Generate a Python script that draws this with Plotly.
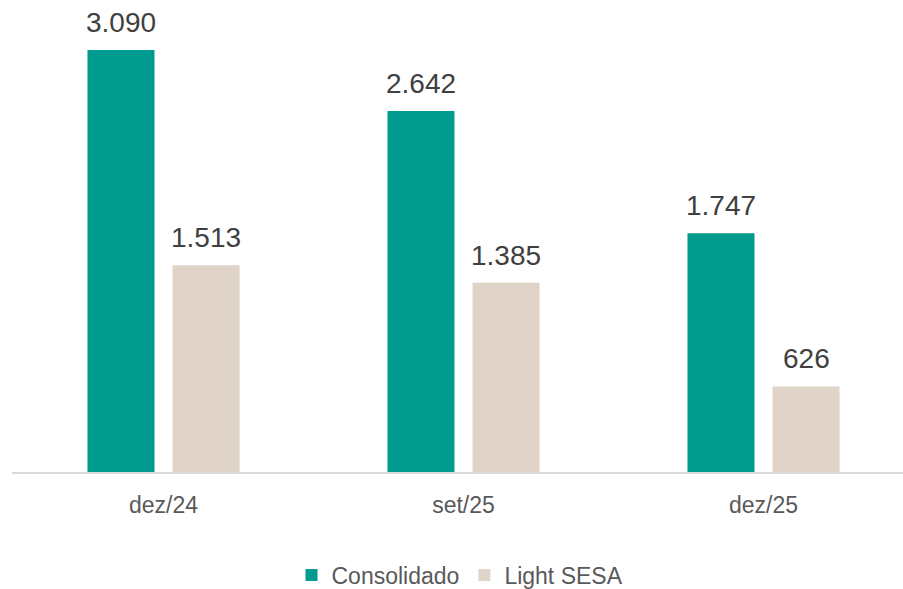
import plotly.graph_objects as go

categories = ["dez/24", "set/25", "dez/25"]
consolidado = [3090, 2642, 1747]
light_sesa = [1513, 1385, 626]

TEAL = "#009B8F"
BEIGE = "#E0D4C8"
FONT = "Arial, Liberation Sans, sans-serif"
LABEL_COLOR = "#404040"

fig = go.Figure()
fig.add_trace(go.Bar(
    name="Consolidado", x=categories, y=consolidado,
    marker=dict(color=TEAL, line=dict(width=0)),
))
fig.add_trace(go.Bar(
    name="Light SESA", x=categories, y=light_sesa,
    marker=dict(color=BEIGE, line=dict(width=0)),
))

# value labels above bars (Portuguese thousands separator)
def fmt(v):
    return f"{v:,.0f}".replace(",", ".")

annotations = []
for series, shift in ((consolidado, -42.5), (light_sesa, 42.5)):
    for cat, val in zip(categories, series):
        annotations.append(dict(
            x=cat, y=val, xref="x", yref="y", text=fmt(val),
            showarrow=False, xanchor="center", yanchor="bottom",
            xshift=shift, yshift=10,
            font=dict(size=28, color=LABEL_COLOR, family=FONT),
        ))

fig.update_layout(
    width=903, height=589,
    margin=dict(l=12, r=0, t=20, b=117, autoexpand=False),
    paper_bgcolor="white", plot_bgcolor="white",
    separators=",.",
    barmode="group", bargap=0.433, bargroupgap=0.212,
    font=dict(family=FONT, color="#595959"),
    showlegend=True,
    legend=dict(
        orientation="h",
        x=(460 - 12) / 891, xanchor="center",
        y=-(575 - 472) / 452, yanchor="middle",
        font=dict(size=23, color="#595959", family=FONT),
        itemwidth=30, traceorder="normal",
    ),
    annotations=annotations,
)
fig.update_xaxes(
    type="category", range=[-0.505, 2.465], automargin=False,
    showline=True, linecolor="#D9D9D9", linewidth=2,
    showgrid=False, zeroline=False, ticks="",
    ticklabelstandoff=11,
    tickfont=dict(size=23, color="#595959", family=FONT),
)
fig.update_yaxes(range=[0, 3309], visible=False, showgrid=False, zeroline=False, automargin=False)

fig.write_html(
    "out.html",
    config={"displayModeBar": False},
    post_script="document.body.style.margin='0';",
)
